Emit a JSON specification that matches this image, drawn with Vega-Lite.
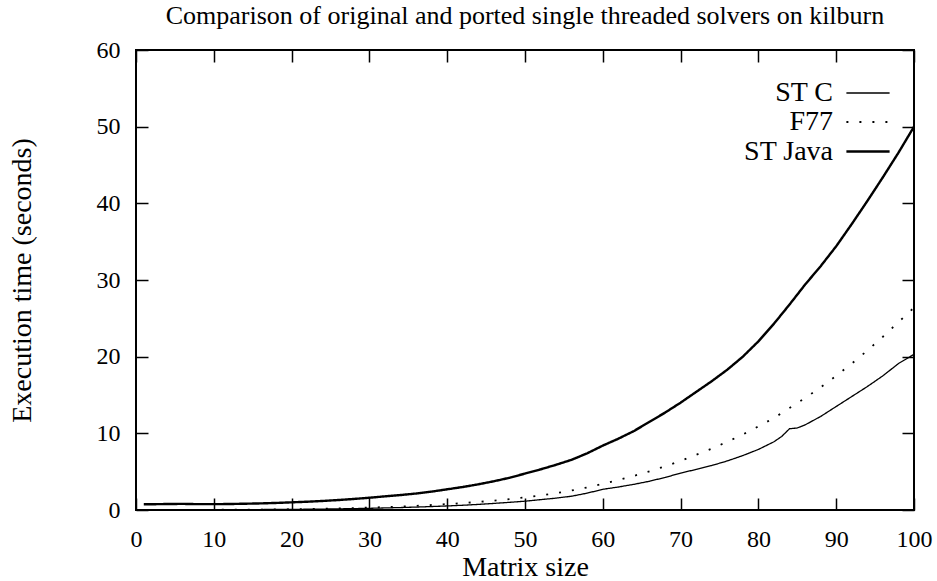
{
  "$schema": "https://vega.github.io/schema/vega-lite/v6.json",
  "width": 778,
  "height": 460,
  "autosize": {"type": "none"},
  "padding": {"left": 136, "top": 50, "right": 23, "bottom": 71},
  "title": {"text": "Comparison of original and ported single threaded solvers on kilburn", "frame": "group", "anchor": "middle", "fontSize": 26, "font": "Liberation Serif", "fontWeight": "normal", "color": "black", "offset": -12, "baseline": "alphabetic"},
  "config": {
    "view": {"stroke": "black", "strokeWidth": 2},
    "axis": {"labelFont": "Liberation Serif", "titleFont": "Liberation Serif", "labelFontSize": 24, "titleFontSize": 28, "labelColor": "black", "titleColor": "black", "titleFontWeight": "normal", "tickColor": "black", "tickWidth": 1.5, "tickSize": -12, "domain": false, "grid": false},
    "legend": {"labelFont": "Liberation Serif", "labelFontSize": 28, "labelColor": "black"}
  },
  "data": {"values": [
    {"n":1,"series":"ST C","t":0.01},{"n":2,"series":"ST C","t":0.01},{"n":4,"series":"ST C","t":0.01},{"n":6,"series":"ST C","t":0.02},{"n":8,"series":"ST C","t":0.02},{"n":10,"series":"ST C","t":0.03},{"n":12,"series":"ST C","t":0.04},{"n":14,"series":"ST C","t":0.05},{"n":16,"series":"ST C","t":0.06},{"n":18,"series":"ST C","t":0.07},{"n":20,"series":"ST C","t":0.08},{"n":22,"series":"ST C","t":0.10},{"n":24,"series":"ST C","t":0.12},{"n":26,"series":"ST C","t":0.15},{"n":28,"series":"ST C","t":0.18},{"n":30,"series":"ST C","t":0.22},{"n":32,"series":"ST C","t":0.27},{"n":34,"series":"ST C","t":0.32},{"n":36,"series":"ST C","t":0.38},{"n":38,"series":"ST C","t":0.45},{"n":40,"series":"ST C","t":0.53},{"n":42,"series":"ST C","t":0.62},{"n":44,"series":"ST C","t":0.73},{"n":46,"series":"ST C","t":0.86},{"n":48,"series":"ST C","t":1.00},{"n":50,"series":"ST C","t":1.15},{"n":52,"series":"ST C","t":1.35},{"n":54,"series":"ST C","t":1.55},{"n":56,"series":"ST C","t":1.80},{"n":58,"series":"ST C","t":2.20},{"n":60,"series":"ST C","t":2.70},{"n":62,"series":"ST C","t":3.00},{"n":64,"series":"ST C","t":3.35},{"n":66,"series":"ST C","t":3.75},{"n":68,"series":"ST C","t":4.25},{"n":70,"series":"ST C","t":4.80},{"n":72,"series":"ST C","t":5.30},{"n":74,"series":"ST C","t":5.80},{"n":76,"series":"ST C","t":6.40},{"n":78,"series":"ST C","t":7.10},{"n":80,"series":"ST C","t":7.90},{"n":82,"series":"ST C","t":8.90},{"n":83,"series":"ST C","t":9.60},{"n":84,"series":"ST C","t":10.60},{"n":85,"series":"ST C","t":10.70},{"n":86,"series":"ST C","t":11.10},{"n":88,"series":"ST C","t":12.20},{"n":90,"series":"ST C","t":13.50},{"n":92,"series":"ST C","t":14.80},{"n":94,"series":"ST C","t":16.10},{"n":96,"series":"ST C","t":17.50},{"n":98,"series":"ST C","t":19.10},{"n":100,"series":"ST C","t":20.30},
    {"n":1,"series":"F77","t":0.01},{"n":2,"series":"F77","t":0.01},{"n":4,"series":"F77","t":0.01},{"n":6,"series":"F77","t":0.02},{"n":8,"series":"F77","t":0.02},{"n":10,"series":"F77","t":0.03},{"n":12,"series":"F77","t":0.04},{"n":14,"series":"F77","t":0.05},{"n":16,"series":"F77","t":0.06},{"n":18,"series":"F77","t":0.08},{"n":20,"series":"F77","t":0.10},{"n":22,"series":"F77","t":0.13},{"n":24,"series":"F77","t":0.16},{"n":26,"series":"F77","t":0.20},{"n":28,"series":"F77","t":0.25},{"n":30,"series":"F77","t":0.31},{"n":32,"series":"F77","t":0.38},{"n":34,"series":"F77","t":0.45},{"n":36,"series":"F77","t":0.54},{"n":38,"series":"F77","t":0.65},{"n":40,"series":"F77","t":0.77},{"n":42,"series":"F77","t":0.90},{"n":44,"series":"F77","t":1.05},{"n":46,"series":"F77","t":1.22},{"n":48,"series":"F77","t":1.42},{"n":50,"series":"F77","t":1.65},{"n":52,"series":"F77","t":1.90},{"n":54,"series":"F77","t":2.20},{"n":56,"series":"F77","t":2.55},{"n":58,"series":"F77","t":2.95},{"n":60,"series":"F77","t":3.40},{"n":62,"series":"F77","t":3.90},{"n":64,"series":"F77","t":4.45},{"n":66,"series":"F77","t":5.05},{"n":68,"series":"F77","t":5.70},{"n":70,"series":"F77","t":6.40},{"n":72,"series":"F77","t":7.20},{"n":74,"series":"F77","t":8.00},{"n":76,"series":"F77","t":8.90},{"n":78,"series":"F77","t":9.85},{"n":80,"series":"F77","t":10.90},{"n":82,"series":"F77","t":12.00},{"n":84,"series":"F77","t":13.30},{"n":86,"series":"F77","t":14.60},{"n":88,"series":"F77","t":16.00},{"n":90,"series":"F77","t":17.50},{"n":92,"series":"F77","t":19.10},{"n":94,"series":"F77","t":20.80},{"n":96,"series":"F77","t":22.60},{"n":98,"series":"F77","t":24.50},{"n":100,"series":"F77","t":26.40},
    {"n":1,"series":"ST Java","t":0.75},{"n":2,"series":"ST Java","t":0.75},{"n":4,"series":"ST Java","t":0.78},{"n":6,"series":"ST Java","t":0.80},{"n":8,"series":"ST Java","t":0.76},{"n":10,"series":"ST Java","t":0.76},{"n":12,"series":"ST Java","t":0.78},{"n":14,"series":"ST Java","t":0.82},{"n":16,"series":"ST Java","t":0.86},{"n":18,"series":"ST Java","t":0.92},{"n":20,"series":"ST Java","t":1.00},{"n":22,"series":"ST Java","t":1.08},{"n":24,"series":"ST Java","t":1.18},{"n":26,"series":"ST Java","t":1.30},{"n":28,"series":"ST Java","t":1.44},{"n":30,"series":"ST Java","t":1.60},{"n":32,"series":"ST Java","t":1.78},{"n":34,"series":"ST Java","t":1.95},{"n":36,"series":"ST Java","t":2.15},{"n":38,"series":"ST Java","t":2.40},{"n":40,"series":"ST Java","t":2.70},{"n":42,"series":"ST Java","t":3.00},{"n":44,"series":"ST Java","t":3.35},{"n":46,"series":"ST Java","t":3.75},{"n":48,"series":"ST Java","t":4.20},{"n":50,"series":"ST Java","t":4.75},{"n":52,"series":"ST Java","t":5.30},{"n":54,"series":"ST Java","t":5.90},{"n":56,"series":"ST Java","t":6.55},{"n":58,"series":"ST Java","t":7.40},{"n":60,"series":"ST Java","t":8.40},{"n":62,"series":"ST Java","t":9.30},{"n":64,"series":"ST Java","t":10.30},{"n":66,"series":"ST Java","t":11.50},{"n":68,"series":"ST Java","t":12.70},{"n":70,"series":"ST Java","t":14.00},{"n":72,"series":"ST Java","t":15.40},{"n":74,"series":"ST Java","t":16.80},{"n":76,"series":"ST Java","t":18.30},{"n":78,"series":"ST Java","t":20.00},{"n":80,"series":"ST Java","t":22.00},{"n":82,"series":"ST Java","t":24.30},{"n":84,"series":"ST Java","t":26.80},{"n":86,"series":"ST Java","t":29.40},{"n":88,"series":"ST Java","t":31.80},{"n":90,"series":"ST Java","t":34.40},{"n":92,"series":"ST Java","t":37.30},{"n":94,"series":"ST Java","t":40.30},{"n":96,"series":"ST Java","t":43.40},{"n":98,"series":"ST Java","t":46.60},{"n":100,"series":"ST Java","t":50.00}
  ]},
  "layer": [
    {
      "mark": {"type": "line", "color": "black", "strokeCap": "butt", "clip": true},
      "encoding": {
        "x": {"field": "n", "type": "quantitative", "scale": {"domain": [0, 100], "nice": false}, "axis": {"orient": "bottom", "values": [0,10,20,30,40,50,60,70,80,90,100], "title": "Matrix size", "labelPadding": 29, "titleY": 65, "titleBaseline": "alphabetic", "labelFlush": false}},
        "y": {"field": "t", "type": "quantitative", "scale": {"domain": [0, 60], "nice": false}, "axis": {"orient": "left", "values": [0,10,20,30,40,50,60], "title": "Execution time (seconds)", "labelPadding": 28, "titleX": -114, "titleY": 230, "titleBaseline": "middle", "titleAngle": -90}},
        "strokeDash": {"field": "series", "type": "nominal", "scale": {"domain": ["ST C", "F77", "ST Java"], "range": [[1, 0], [2, 11], [1, 0]]}, "legend": {"title": null, "orient": "none", "legendX": 717, "legendY": 28.5, "labelAlign": "right", "labelOffset": -50, "symbolSize": 729, "symbolType": "M-1.6,0H1.6", "symbolStrokeColor": "black", "symbolFillColor": "transparent", "rowPadding": 0, "padding": 0}},
        "strokeWidth": {"field": "series", "type": "nominal", "scale": {"type": "ordinal", "domain": ["ST C", "F77", "ST Java"], "range": [1.3, 1.8, 2.4]}, "legend": {"title": null}}
      }
    },
    {
      "mark": {"type": "point", "opacity": 0},
      "encoding": {
        "x": {"field": "n", "type": "quantitative", "axis": {"orient": "top", "values": [0,10,20,30,40,50,60,70,80,90,100], "labels": false, "title": null}},
        "y": {"field": "t", "type": "quantitative", "axis": {"orient": "right", "values": [0,10,20,30,40,50,60], "labels": false, "title": null}}
      }
    }
  ],
  "resolve": {"axis": {"x": "independent", "y": "independent"}}
}
